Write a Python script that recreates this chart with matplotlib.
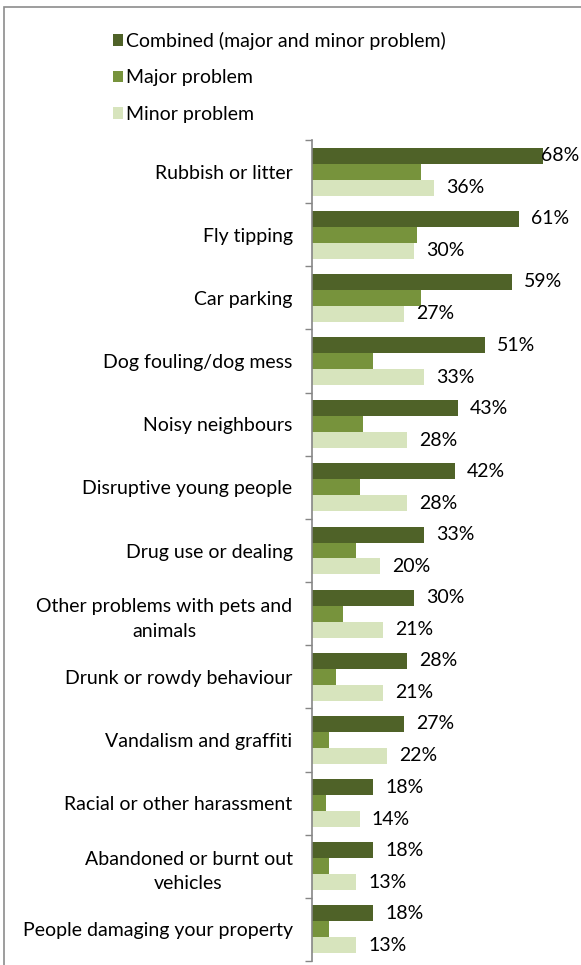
import matplotlib
matplotlib.use('Agg')
import matplotlib.pyplot as plt
import matplotlib.patches as mpatches
import numpy as np

plt.rcParams['font.family'] = ['Lato', 'DejaVu Sans']

categories = [
    'Rubbish or litter',
    'Fly tipping',
    'Car parking',
    'Dog fouling/dog mess',
    'Noisy neighbours',
    'Disruptive young people',
    'Drug use or dealing',
    'Other problems with pets and\nanimals',
    'Drunk or rowdy behaviour',
    'Vandalism and graffiti',
    'Racial or other harassment',
    'Abandoned or burnt out\nvehicles',
    'People damaging your property',
]
combined = [68, 61, 59, 51, 43, 42, 33, 30, 28, 27, 18, 18, 18]
major = [32, 31, 32, 18, 15, 14, 13, 9, 7, 5, 4, 5, 5]
minor = [36, 30, 27, 33, 28, 28, 20, 21, 21, 22, 14, 13, 13]

series_names = ['Combined (major and minor problem)', 'Major problem', 'Minor problem']
colors = ['#4F6228', '#77933C', '#D7E4BD']

W, H = 581, 965
FS = 14
fig = plt.figure(figsize=(W / 100, H / 100), dpi=100)

# outer chart border
fig.patches.append(mpatches.Rectangle((4 / W, -0.02), 1.1, (H - 7) / H + 0.02,
                                      transform=fig.transFigure, fill=False,
                                      edgecolor='#8c8c8c', linewidth=1.2))

ax = fig.add_axes([312 / W, 4 / H, (W - 312) / W, (965 - 140 - 4) / H])
ax.set_facecolor('none')

y = np.arange(len(categories))
h = 0.253
series = [combined, major, minor]
bars = []
for i, (vals, col, name) in enumerate(zip(series, colors, series_names)):
    b = ax.barh(y + (i - 1) * h, vals, height=h, color=col, label=name)
    bars.append(b)

ax.set_xlim(0, 79.2)
ax.set_ylim(len(categories) - 0.5, -0.5)

# value labels for combined and minor series
xmax_px = W - 40
for idx in (0, 2):
    for yy, v in zip(y, series[idx]):
        px = ax.transData.transform((v, 0))[0] + 12
        px = min(px, xmax_px)
        xd = ax.transData.inverted().transform((px, 0))[0]
        ax.text(xd, yy + (idx - 1) * h, f'{v}%', va='center', ha='left',
                fontsize=FS, color='black')

ax.set_yticks(y)
ax.set_yticklabels(categories, fontsize=FS, multialignment='center',
                   linespacing=1.55)
ax.tick_params(axis='y', which='major', length=0, pad=14)
ax.set_yticks(np.arange(-0.5, len(categories)), minor=True)
ax.tick_params(axis='y', which='minor', length=5, color='#868686', width=1)
ax.set_xticks([])
for s in ('top', 'right', 'bottom'):
    ax.spines[s].set_visible(False)
ax.spines['left'].set_color('#868686')
ax.spines['left'].set_linewidth(1.2)

fig.legend(handles=bars, labels=series_names, loc='upper left',
           bbox_to_anchor=(105 / W, 1 - 24 / H), frameon=False, fontsize=FS,
           handlelength=0.55, handleheight=0.55, handletextpad=0.15,
           labelspacing=1.0, borderaxespad=0)

fig.savefig('out.png', dpi=100)
